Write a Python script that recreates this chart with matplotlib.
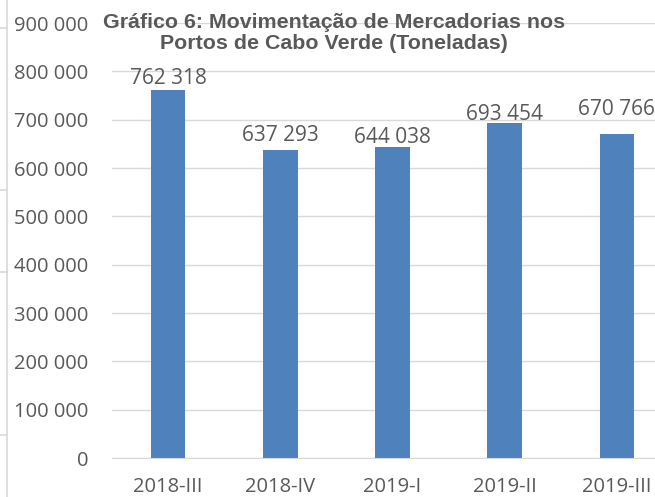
import matplotlib.pyplot as plt
from matplotlib.lines import Line2D

categories = ["2018-III", "2018-IV", "2019-I", "2019-II", "2019-III"]
values = [762318, 637293, 644038, 693454, 670766]
yticks = [0, 100000, 200000, 300000, 400000, 500000, 600000, 700000, 800000, 900000]

# gap between bar top and its label, in pixels (as placed in the source chart)
label_gap = [5, 8, 3, 2, 18]

TEXT = "#595959"
BAR = "#4f81bd"
GRID = "#d9d9d9"


def fmt(v):
    return f"{v:,}".replace(",", " ")


fig = plt.figure(figsize=(6.55, 4.97), dpi=100)
ax = fig.add_axes([112 / 655, 1 - 458 / 497, 561 / 655, 435 / 497])

x = range(len(categories))
ax.bar(x, values, width=0.31, color=BAR, zorder=2)
ax.set_xlim(-0.5, len(categories) - 0.5)
ax.set_ylim(0, 900000)
ax.set_yticks(yticks)
ax.set_yticklabels([fmt(v) for v in yticks])
ax.set_xticks(list(x))
ax.set_xticklabels(categories)
ax.grid(axis="y", color=GRID, linewidth=1, zorder=0)
for s in ax.spines.values():
    s.set_visible(False)
ax.spines["bottom"].set_visible(True)
ax.spines["bottom"].set_color(GRID)
ax.tick_params(length=0, labelsize=14.5, labelcolor=TEXT)
ax.tick_params(axis="y", pad=17)
ax.tick_params(axis="x", pad=14)
for lab in ax.get_xticklabels() + ax.get_yticklabels():
    lab.set_family("Open Sans")

for i, v in enumerate(values):
    ax.annotate(fmt(v), (i, v), xytext=(0, label_gap[i] * 0.72 - 3), textcoords="offset points",
                ha="center", va="bottom", fontsize=15, color=TEXT, family="Open Sans")

fig.text(334 / 655, 1 - 33 / 497,
         "Gráfico 6: Movimentação de Mercadorias nos\nPortos de Cabo Verde (Toneladas)",
         ha="center", va="center", fontsize=15.4, fontweight="bold", color=TEXT,
         family="Liberation Sans", linespacing=1.12)

# cell borders of the sheet at the left edge
fig.add_artist(Line2D([7 / 655, 7 / 655], [0, 1], color=GRID, linewidth=1.2))
for yp in [28, 190, 272, 435]:
    fig.add_artist(Line2D([0, 7 / 655], [1 - yp / 497] * 2, color=GRID, linewidth=1.2))

fig.savefig("out.png", dpi=100)
